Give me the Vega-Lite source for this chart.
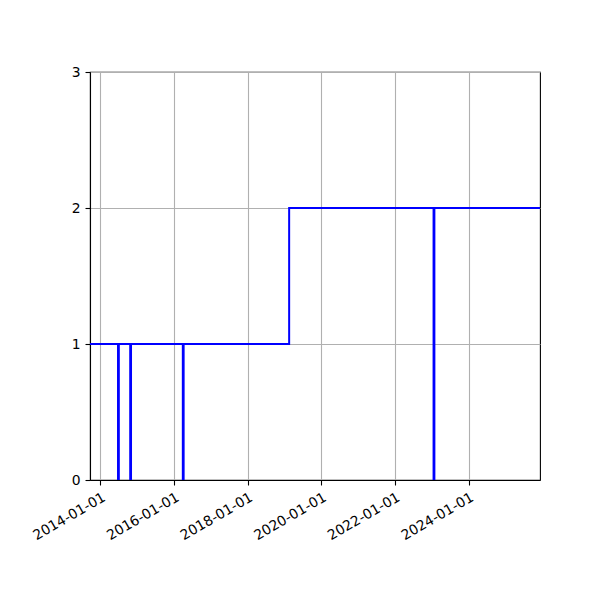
{
  "$schema": "https://vega.github.io/schema/vega-lite/v6.json",
  "width": 450,
  "height": 408,
  "autosize": {"type": "none"},
  "padding": {"left": 90, "top": 72, "right": 60, "bottom": 120},
  "background": "white",
  "data": {
    "values": [
      {"date": "2013-06-01", "value": 1},
      {"date": "2014-06-24", "value": 0},
      {"date": "2014-07-02", "value": 1},
      {"date": "2014-10-23", "value": 0},
      {"date": "2014-10-31", "value": 1},
      {"date": "2016-03-28", "value": 0},
      {"date": "2016-04-05", "value": 1},
      {"date": "2019-02-16", "value": 2},
      {"date": "2023-01-19", "value": 0},
      {"date": "2023-01-27", "value": 2},
      {"date": "2026-06-01", "value": 2}
    ]
  },
  "mark": {
    "type": "line",
    "interpolate": "step-after",
    "color": "#0000ff",
    "strokeWidth": 2,
    "clip": true
  },
  "encoding": {
    "x": {
      "field": "date",
      "type": "temporal",
      "title": null,
      "scale": {
        "type": "utc",
        "domain": [
          {"year": 2013, "month": 9, "date": 19, "utc": true},
          {"year": 2025, "month": 12, "date": 10, "utc": true}
        ]
      },
      "axis": {
        "values": [
          {"year": 2014, "month": 1, "date": 1, "utc": true},
          {"year": 2016, "month": 1, "date": 1, "utc": true},
          {"year": 2018, "month": 1, "date": 1, "utc": true},
          {"year": 2020, "month": 1, "date": 1, "utc": true},
          {"year": 2022, "month": 1, "date": 1, "utc": true},
          {"year": 2024, "month": 1, "date": 1, "utc": true}
        ],
        "labelExpr": "utcFormat(datum.value, '%Y-%m-%d')",
        "labelAngle": -30,
        "labelAlign": "right",
        "labelBaseline": "top",
        "labelPadding": 5,
        "labelDx": -5,
        "labelDy": 2
      }
    },
    "y": {
      "field": "value",
      "type": "quantitative",
      "title": null,
      "scale": {"domain": [0, 3], "nice": false, "zero": false},
      "axis": {"values": [0, 1, 2, 3], "labelPadding": 5}
    }
  },
  "config": {
    "view": {"stroke": "black", "strokeWidth": 1.1},
    "axis": {
      "grid": true,
      "gridColor": "#b0b0b0",
      "gridWidth": 1.1,
      "gridOpacity": 1,
      "domain": true,
      "domainColor": "black",
      "domainWidth": 1.1,
      "ticks": true,
      "tickColor": "black",
      "tickWidth": 1.1,
      "tickSize": 5,
      "labelFont": "DejaVu Sans",
      "labelFontSize": 13.9,
      "labelColor": "black",
      "labelFlush": false,
      "labelOverlap": false
    }
  }
}
